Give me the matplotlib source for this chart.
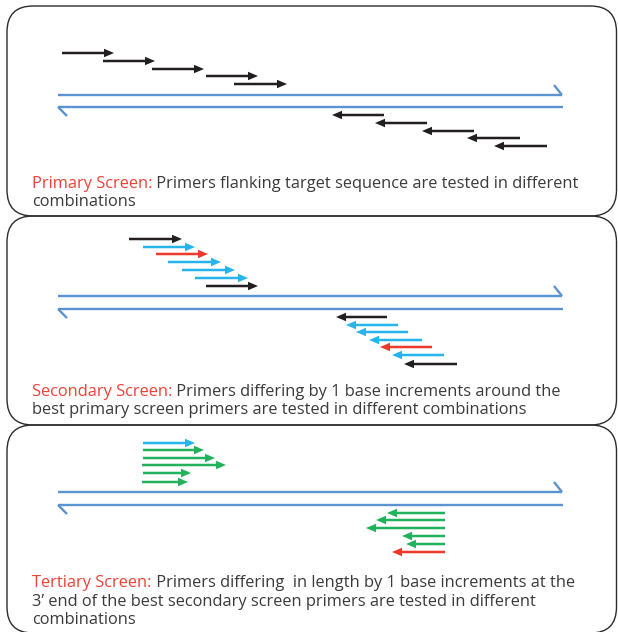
import matplotlib
matplotlib.use("Agg")
import matplotlib.pyplot as plt
from matplotlib.patches import FancyBboxPatch

# ---------------- data (positions along the template, in diagram units) ----------------
# Panel 1 - primary screen
p1_fwd_start = [62, 103, 152, 206, 234]
p1_fwd_end = [114, 155, 204, 258, 287]
p1_fwd_y = [53, 61, 69, 76, 84]
p1_fwd_col = ["k", "k", "k", "k", "k"]
p1_rev_tail = [384, 427, 474, 520, 547]
p1_rev_head = [332, 375, 422, 467, 494]
p1_rev_y = [115, 123, 131, 138, 146]
p1_rev_col = ["k", "k", "k", "k", "k"]

# Panel 2 - secondary screen
p2_fwd_start = [129, 143, 156, 168, 182, 195, 206]
p2_fwd_end = [182, 195, 208, 221, 235, 248, 258]
p2_fwd_y = [239, 247, 254, 262, 270, 278, 286]
p2_fwd_col = ["k", "c", "r", "c", "c", "c", "k"]
p2_rev_tail = [387, 398, 408, 422, 432, 444, 457]
p2_rev_head = [336, 346, 356, 369, 380, 392, 404]
p2_rev_y = [317, 325, 332, 340, 347, 355, 364]
p2_rev_col = ["k", "c", "c", "c", "r", "c", "k"]

# Panel 3 - tertiary screen
p3_fwd_start = [143, 143, 143, 142, 143, 142]
p3_fwd_end = [195, 204, 215, 226, 191, 188]
p3_fwd_y = [443, 450, 458, 465, 473, 482]
p3_fwd_col = ["c", "g", "g", "g", "g", "g"]
p3_rev_tail = [445, 445, 445, 445, 445, 445]
p3_rev_head = [387, 376, 366, 402, 406, 392]
p3_rev_y = [513, 520, 528, 536, 544, 552]
p3_rev_col = ["g", "g", "g", "g", "g", "r"]

titles = ["Primary Screen:", "Secondary Screen:", "Tertiary Screen:"]
first_lines = [
    " Primers flanking target sequence are tested in different",
    " Primers differing by 1 base increments around the",
    " Primers differing  in length by 1 base increments at the",
]
more_lines = [
    ["combinations"],
    ["best primary screen primers are tested in different combinations"],
    ["3\u2019 end of the best secondary screen primers are tested in different", "combinations"],
]

# ---------------- styling ----------------
COLORS = {"k": "#231f20", "c": "#27b4ea", "r": "#ee3a2c", "g": "#22b15c"}
DNA = "#5b92d2"
RED_TXT = "#ef4136"
GREY_TXT = "#3a3a3a"

W, H = 618, 632
fig = plt.figure(figsize=(W / 100, H / 100), dpi=100)
ax = fig.add_axes([0, 0, 1, 1])
ax.set_xlim(0, W)
ax.set_ylim(H, 0)
ax.axis("off")

# panel boxes: (top, bottom)
panels = [(6, 216), (216, 425), (425, 633)]
for top, bot in panels:
    box = FancyBboxPatch((7, top), 609.5, bot - top,
                         boxstyle="round,pad=0,rounding_size=26",
                         fc="none", ec="#2b2b2b", lw=1.0, zorder=1, clip_on=False)
    ax.add_patch(box)

# DNA strands: (top strand y, bottom strand y)
strands = [(95, 107), (296, 309), (492, 505)]
x_left, x_right = 58, 562
for ys, yb in strands:
    ax.plot([x_left, x_right], [ys, ys], color=DNA, lw=1.7, solid_capstyle="butt", zorder=2)
    ax.plot([x_right, x_right - 8], [ys, ys - 10], color=DNA, lw=1.7, solid_capstyle="butt", zorder=2)
    ax.plot([x_left, x_right + 1], [yb, yb], color=DNA, lw=1.7, solid_capstyle="butt", zorder=2)
    ax.plot([x_left, x_left + 9], [yb, yb + 9], color=DNA, lw=1.7, solid_capstyle="butt", zorder=2)


def draw_arrow(x0, x1, y, c):
    ax.arrow(x0, y, x1 - x0, 0, width=2.5, head_width=8.5, head_length=10,
             length_includes_head=True, color=COLORS[c], lw=0, zorder=3)


sets = [
    (p1_fwd_start, p1_fwd_end, p1_fwd_y, p1_fwd_col, p1_rev_tail, p1_rev_head, p1_rev_y, p1_rev_col),
    (p2_fwd_start, p2_fwd_end, p2_fwd_y, p2_fwd_col, p2_rev_tail, p2_rev_head, p2_rev_y, p2_rev_col),
    (p3_fwd_start, p3_fwd_end, p3_fwd_y, p3_fwd_col, p3_rev_tail, p3_rev_head, p3_rev_y, p3_rev_col),
]
for fs, fe, fy, fc, rt, rh, ry, rc in sets:
    for a, b, y, c in zip(fs, fe, fy, fc):
        draw_arrow(a, b, y, c)
    for a, b, y, c in zip(rt, rh, ry, rc):
        draw_arrow(a, b, y, c)

# texts
FONT = ["Open Sans", "DejaVu Sans"]
FS = 11.8
baselines = [(188, [206]), (396, [414]), (587, [606, 624])]
text_x = 32
for i, (b1, rest) in enumerate(baselines):
    t = ax.text(text_x, b1, titles[i], color=RED_TXT, fontsize=FS, family=FONT,
                ha="left", va="baseline", zorder=4)
    ax.annotate(first_lines[i], xy=(1, 0), xycoords=t, color=GREY_TXT, fontsize=FS,
                family=FONT, ha="left", va="bottom", zorder=4)
    for line, yb in zip(more_lines[i], rest):
        ax.text(text_x, yb, line, color=GREY_TXT, fontsize=FS, family=FONT,
                ha="left", va="baseline", zorder=4)

fig.savefig("out.png", dpi=100)
